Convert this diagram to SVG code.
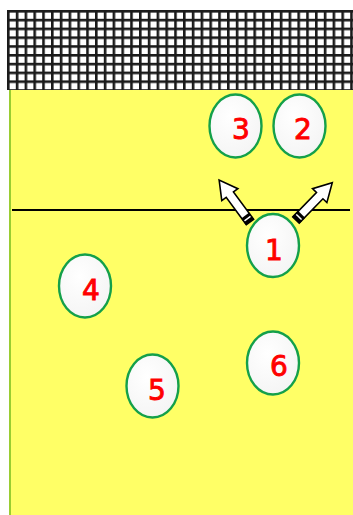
<svg xmlns="http://www.w3.org/2000/svg" width="353" height="515" viewBox="0 0 353 515">
<style>
.p ellipse{fill:url(#g);stroke:#14a04a;stroke-width:2.4}
.p text{font-family:"DejaVu Sans",sans-serif;font-size:28px;fill:#ff0000;stroke:#ff0000;stroke-width:0.9;text-anchor:middle}
.arr{fill:#fff;stroke:#000;stroke-width:1.6;stroke-linejoin:miter}
</style>
<defs>
<pattern id="net" x="7" y="10" width="8.8" height="8.8" patternUnits="userSpaceOnUse">
<rect width="8.8" height="8.8" fill="#fff"/>
<rect x="0" y="0" width="2.6" height="8.8" fill="#1a1a1a"/>
<rect x="0" y="0" width="8.8" height="2.6" fill="#1a1a1a"/>
</pattern>
<radialGradient id="g" cx="0.4" cy="0.35" r="0.7">
<stop offset="0" stop-color="#ffffff"/>
<stop offset="1" stop-color="#f4f4f4"/>
</radialGradient>
<g id="arrow">
<polygon class="arr" points="0,-4.5 34,-4.5 34,-10 52,0 34,10 34,4.5 0,4.5"/>
<rect x="0" y="-5" width="3.5" height="10" fill="#000"/>
<rect x="5" y="-5" width="3" height="10" fill="#000"/>
</g>
</defs>
<rect width="353" height="515" fill="#fff"/>
<rect x="7" y="10" width="346" height="80" fill="url(#net)"/>
<rect x="9" y="90" width="344" height="425" fill="#ffff66"/>
<rect x="9" y="90" width="2" height="425" fill="#9acd32"/>
<line x1="12" y1="210" x2="350" y2="210" stroke="#000" stroke-width="2"/>
<g id="connectors">
<use href="#arrow" transform="translate(250,222) rotate(-126.4)"/>
<use href="#arrow" transform="translate(296,220) rotate(-45.8)"/>
</g>
<g id="p3" class="p"><ellipse cx="235.5" cy="126" rx="26" ry="31.5"/><text x="241" y="139">3</text></g>
<g id="p2" class="p"><ellipse cx="299.5" cy="126" rx="26" ry="31.5"/><text x="303" y="139">2</text></g>
<g id="p1" class="p"><ellipse cx="273" cy="245.5" rx="26" ry="31.5"/><text x="274" y="260">1</text></g>
<g id="p4" class="p"><ellipse cx="85" cy="286" rx="26" ry="31.5"/><text x="91" y="300">4</text></g>
<g id="p5" class="p"><ellipse cx="152.5" cy="386" rx="26" ry="31.5"/><text x="157" y="400">5</text></g>
<g id="p6" class="p"><ellipse cx="273" cy="363" rx="26" ry="31.5"/><text x="279" y="376">6</text></g>
</svg>
